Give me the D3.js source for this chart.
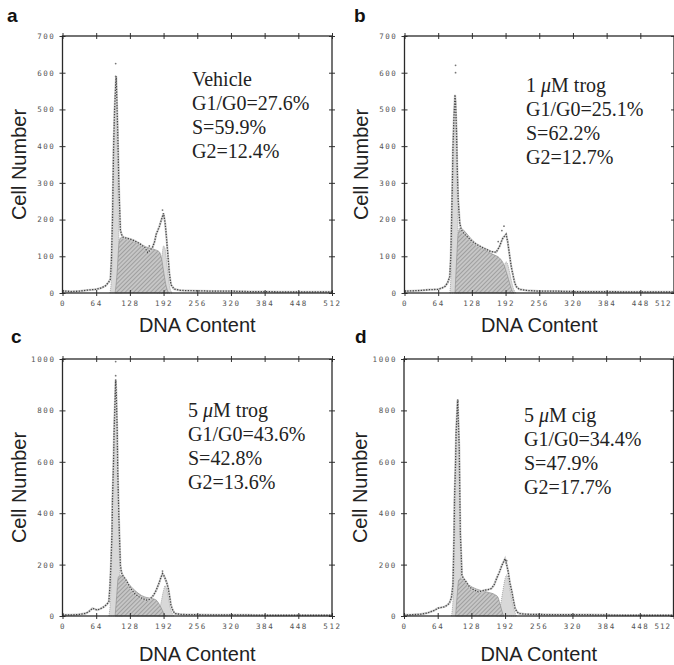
<!DOCTYPE html>
<html>
<head>
<meta charset="utf-8">
<script src="https://cdn.jsdelivr.net/npm/d3@7"></script>
<style>
  body { margin: 0; background: #fff; }
  svg { display: block; }
  .tick text { font-family: "DejaVu Sans Mono", monospace; font-size: 7.5px; fill: #555; letter-spacing: 1.6px; }
  .axis-title { font-family: "Liberation Sans", Arial, sans-serif; font-size: 20px; fill: #222; }
  .panel-letter { font-family: "Liberation Sans", Arial, sans-serif; font-size: 19px; font-weight: bold; fill: #111; }
  .note { font-family: "Liberation Serif", "Times New Roman", serif; font-size: 20px; fill: #222; }
</style>
</head>
<body>
<div id="chart"></div>
<script>
// x ticks shared by all panels (DNA content channel)
const xTicks = [0, 64, 128, 192, 256, 320, 384, 448, 512]
const yTicksTop = [0, 100, 200, 300, 400, 500, 600, 700]
const yTicksBottom = [0, 200, 400, 600, 800, 1000]

// observed histograms, [channel, cell count]
const obsA = [[0,6],[16,4],[32,5],[48,8],[64,10],[74,14],[82,20],[88,30],[91,38],[93,90],[95,200],[97,390],[99,500],[101,565],[102,590],[103,540],[105,434],[107,300],[108,253],[110,172],[112,160],[115,152],[120,150],[128,147],[137,142],[146,135],[156,125],[162,110],[167,118],[171,124],[175,140],[178,160],[184,181],[188,200],[192,217],[195,190],[197,160],[200,108],[203,54],[206,23],[212,11],[224,7],[256,6],[288,5],[320,5],[352,4],[384,4],[416,3],[448,3],[480,3],[512,3]]
const obsB = [[0,5],[16,6],[32,7],[48,9],[64,10],[72,14],[77,18],[82,28],[86,45],[88,100],[89,163],[91,300],[92,390],[94,480],[96,540],[97,520],[99,433],[100,350],[102,253],[105,190],[108,172],[114,160],[120,152],[126,144],[135,134],[145,126],[155,119],[164,113],[174,111],[180,125],[184,140],[187,150],[190,155],[193,160],[196,140],[200,99],[203,70],[206,50],[209,30],[212,18],[218,10],[232,7],[256,5],[288,5],[320,4],[352,4],[384,4],[416,3],[448,3],[480,3],[512,3]]
const obsC = [[0,4],[16,4],[32,6],[44,10],[50,17],[57,30],[62,26],[66,23],[72,28],[79,36],[84,45],[88,55],[90,110],[92,197],[94,320],[95,455],[97,600],[98,713],[100,850],[101,920],[102,880],[104,713],[105,560],[107,391],[109,260],[110,197],[112,170],[114,159],[117,150],[121,139],[126,120],[132,100],[138,85],[145,75],[152,68],[160,62],[166,65],[173,81],[178,100],[183,126],[187,150],[190,165],[192,160],[195,146],[198,130],[201,107],[204,70],[206,43],[209,25],[213,10],[224,6],[256,5],[288,4],[320,4],[352,4],[384,3],[416,3],[448,3],[480,3],[512,3]]
const obsD = [[0,4],[16,5],[32,7],[45,12],[51,17],[58,22],[64,30],[70,33],[77,36],[82,42],[86,49],[90,70],[93,120],[95,300],[96,455],[98,600],[99,713],[101,800],[102,842],[103,780],[105,649],[106,480],[107,326],[109,220],[110,159],[113,145],[116,139],[122,120],[128,107],[135,100],[141,94],[148,97],[154,101],[160,103],[166,107],[171,120],[176,146],[181,170],[186,197],[189,210],[192,223],[195,200],[198,172],[201,130],[205,94],[208,60],[211,30],[214,18],[218,10],[230,7],[256,6],[288,5],[320,5],[352,5],[384,4],[416,3],[448,3],[480,3],[512,3]]

// stray points above the curve
const strayA = [[101,625],[101,590],[165,128],[190,226]]
const strayB = [[97,620],[97,600],[189,182],[185,170],[178,140]]
const strayC = [[101,990],[101,935],[190,175]]
const strayD = [[102,836],[195,215]]

// fitted G1 peaks
const g1A = [[90,0],[93,40],[95,150],[97,330],[99,480],[101,545],[103,480],[105,330],[107,160],[109,60],[111,15],[113,0]]
const g1B = [[86,0],[88,40],[90,150],[92,320],[94,460],[96,500],[98,440],[100,300],[102,150],[104,50],[106,10],[108,0]]
const g1C = [[88,0],[91,60],[93,200],[95,420],[97,640],[99,800],[101,860],[103,780],[105,580],[107,350],[109,160],[111,50],[113,10],[115,0]]
const g1D = [[90,0],[93,60],[95,200],[97,420],[99,620],[101,760],[103,720],[105,520],[107,300],[109,120],[111,30],[113,0]]

// fitted S phase
const sA = [[100,0],[104,60],[107,130],[110,150],[115,152],[128,145],[144,135],[160,125],[176,118],[184,112],[188,95],[192,60],[196,25],[200,5],[203,0]]
const sB = [[96,0],[99,90],[102,160],[106,178],[113,170],[125,150],[140,130],[155,115],[170,104],[180,96],[188,80],[195,50],[200,25],[205,5],[208,0]]
const sC = [[100,0],[103,80],[106,150],[110,158],[120,140],[130,115],[140,95],[150,80],[160,72],[170,68],[178,62],[184,45],[189,25],[194,5],[197,0]]
const sD = [[98,0],[101,80],[104,140],[108,145],[118,128],[130,112],[145,100],[160,92],[172,84],[178,75],[182,50],[186,20],[189,0]]

// fitted G2 peaks
const g2A = [[178,0],[182,15],[186,55],[189,100],[192,128],[195,120],[198,85],[201,45],[204,15],[208,0]]
const g2B = [[178,0],[182,15],[186,45],[190,75],[193,85],[196,78],[200,55],[204,28],[208,8],[212,0]]
const g2C = [[180,0],[184,20],[188,60],[192,100],[195,118],[198,105],[201,75],[204,40],[208,12],[212,0]]
const g2D = [[176,0],[180,15],[184,50],[188,100],[192,145],[195,160],[198,140],[202,95],[206,50],[210,18],[214,0]]

const notesA = ["Vehicle", "G1/G0=27.6%", "S=59.9%", "G2=12.4%"]
const notesB = ["1 μM trog", "G1/G0=25.1%", "S=62.2%", "G2=12.7%"]
const notesC = ["5 μM trog", "G1/G0=43.6%", "S=42.8%", "G2=13.6%"]
const notesD = ["5 μM cig", "G1/G0=34.4%", "S=47.9%", "G2=17.7%"]

const W = 674, H = 665
const pw = 269.5, ph = 257

const panels = [
  { letter: "a", lx: 7, ly: 22, left: 62.5, top: 36, ymax: 700, yt: yTicksTop, obs: obsA, stray: strayA, g1: g1A, s: sA, g2: g2A, notes: notesA, nx: 192, ny: 86, titleOff: 39, edge: false },
  { letter: "b", lx: 354, ly: 22, left: 404.5, top: 36, ymax: 700, yt: yTicksTop, obs: obsB, stray: strayB, g1: g1B, s: sB, g2: g2B, notes: notesB, nx: 526, ny: 92, titleOff: 39, edge: true },
  { letter: "c", lx: 11, ly: 343, left: 62.5, top: 359, ymax: 1000, yt: yTicksBottom, obs: obsC, stray: strayC, g1: g1C, s: sC, g2: g2C, notes: notesC, nx: 188, ny: 417, titleOff: 45, edge: false },
  { letter: "d", lx: 355, ly: 343, left: 404, top: 359, ymax: 1000, yt: yTicksBottom, obs: obsD, stray: strayD, g1: g1D, s: sD, g2: g2D, notes: notesD, nx: 524, ny: 422, titleOff: 45, edge: true }
]

const svg = d3.select("#chart").append("svg")
  .attr("width", W).attr("height", H)

// hatch for the S phase area
const defs = svg.append("defs")
const pat = defs.append("pattern")
  .attr("id", "hatch")
  .attr("patternUnits", "userSpaceOnUse")
  .attr("width", 3).attr("height", 3)
  .attr("patternTransform", "rotate(45)")
pat.append("rect").attr("width", 3).attr("height", 3).attr("fill", "#c6c6c6")
pat.append("line").attr("x1", 0).attr("y1", 0).attr("x2", 0).attr("y2", 3)
  .attr("stroke", "#7e7e7e").attr("stroke-width", 1.1)

panels.forEach(p => {
  const g = svg.append("g").attr("transform", "translate(" + p.left + "," + p.top + ")")

  const x = d3.scaleLinear().domain([0, 512]).range([0, pw])
  const y = d3.scaleLinear().domain([0, p.ymax]).range([ph, 0])

  const area = d3.area()
    .x(d => x(d[0]))
    .y0(y(0))
    .y1(d => y(d[1]))
    .curve(d3.curveMonotoneX)

  const line = d3.line()
    .x(d => x(d[0]))
    .y(d => y(d[1]))

  // fitted components
  g.append("path").attr("d", area(p.g1))
    .attr("fill", "#d8d8d8").attr("stroke", "#999").attr("stroke-width", 0.8).attr("stroke-dasharray", "1,1")
  g.append("path").attr("d", area(p.g2))
    .attr("fill", "#d8d8d8").attr("stroke", "#999").attr("stroke-width", 0.8).attr("stroke-dasharray", "1,1")
  g.append("path").attr("d", area(p.s))
    .attr("fill", "url(#hatch)").attr("stroke", "#888").attr("stroke-width", 0.6)

  // observed data, drawn as dots
  g.append("path").attr("d", line(p.obs))
    .attr("fill", "none").attr("stroke", "#cfcfcf").attr("stroke-width", 2.2)
  g.append("path").attr("d", line(p.obs))
    .attr("fill", "none").attr("stroke", "#444").attr("stroke-width", 1.3)
    .attr("stroke-dasharray", "1.3,1.4")
  g.selectAll(".stray").data(p.stray).enter().append("circle")
    .attr("class", "stray")
    .attr("cx", d => x(d[0])).attr("cy", d => y(d[1]))
    .attr("r", 0.9).attr("fill", "#777")

  // axes on all four sides, ticks crossing the frame
  const bottom = g.append("g").attr("transform", "translate(0," + ph + ")")
    .call(d3.axisBottom(x).tickValues(xTicks).tickSize(3).tickPadding(5).tickFormat(d3.format("d")))
  const top = g.append("g")
    .call(d3.axisTop(x).tickValues(xTicks).tickSize(3).tickFormat(""))
  const left = g.append("g")
    .call(d3.axisLeft(y).tickValues(p.yt).tickSize(3).tickPadding(4).tickFormat(d3.format("d")))
  const right = g.append("g").attr("transform", "translate(" + pw + ",0)")
    .call(d3.axisRight(y).tickValues(p.yt).tickSize(3).tickFormat(""))

  ;[bottom, top].forEach(a => {
    a.select(".domain").remove()
    a.selectAll(".tick line").attr("y1", -3).attr("y2", 3).attr("stroke", "#333")
  })
  ;[left, right].forEach(a => {
    a.select(".domain").remove()
    a.selectAll(".tick line").attr("x1", -3).attr("x2", 3).attr("stroke", "#333")
  })
  bottom.selectAll(".tick text").attr("dy", "0.71em")
  // right-hand panels run to the page edge, so the last label is pulled in
  if (p.edge) {
    bottom.selectAll(".tick text").filter(d => d === 512)
      .attr("text-anchor", "end").attr("x", -3).style("letter-spacing", "1px")
  }

  g.append("rect")
    .attr("width", pw).attr("height", ph)
    .attr("fill", "none").attr("stroke", "#2a2a2a").attr("stroke-width", 1.3)

  // axis titles
  g.append("text").attr("class", "axis-title")
    .attr("x", pw / 2).attr("y", ph + p.titleOff)
    .attr("text-anchor", "middle")
    .text("DNA Content")
  g.append("text").attr("class", "axis-title")
    .attr("transform", "translate(" + (-44) + "," + (ph / 2) + ") rotate(-90)")
    .attr("text-anchor", "middle")
    .attr("dy", "0.35em")
    .text("Cell Number")

  // panel letter
  svg.append("text").attr("class", "panel-letter")
    .attr("x", p.lx).attr("y", p.ly).text(p.letter)

  // percentages
  const note = svg.append("text").attr("class", "note")
  p.notes.forEach((t, i) => {
    const ts = note.append("tspan").attr("x", p.nx).attr("y", p.ny + i * 24)
    if (t.indexOf("μ") >= 0) {
      const parts = t.split("μ")
      ts.append("tspan").text(parts[0])
      ts.append("tspan").attr("font-style", "italic").text("μ")
      ts.append("tspan").text(parts[1])
    } else {
      ts.text(t)
    }
  })
})
</script>
</body>
</html>
